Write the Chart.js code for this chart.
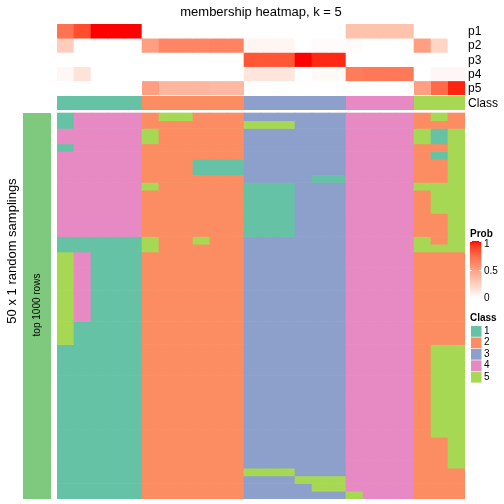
<!DOCTYPE html>
<html><head><meta charset="utf-8">
<script src="https://cdn.jsdelivr.net/npm/chart.js@4/dist/chart.umd.min.js"></script>
<style>
html,body{margin:0;padding:0;background:#fff;}
#wrap{position:relative;width:504px;height:504px;font-family:"Liberation Sans",Arial,Helvetica,sans-serif;color:#000;overflow:hidden;}
#c{position:absolute;left:0;top:0;}
.t{position:absolute;white-space:nowrap;line-height:1;}
</style></head><body>
<div id="wrap"><canvas id="c" width="504" height="504"></canvas></div>
<script>
// ---------------- data ----------------
const titleText = 'membership heatmap, k = 5';
const classLabels = ['1','2','3','4','5'];
const classColors = ['#66C2A5','#FC8D62','#8DA0CB','#E78AC3','#A6D854'];
const annoNames = ['p1','p2','p3','p4','p5'];
const probTicks = [0, 0.5, 1];
// membership probabilities for the 24 samples (columns)
const p1 = [0.70,0.85,1,1,1, 0,0,0,0,0,0, 0,0,0,0,0,0, 0.32,0.32,0.32,0.32, 0,0,0];
const p2 = [0.26,0,0,0,0, 0.50,0.62,0.62,0.62,0.63,0.63, 0.05,0.05,0.05,0,0.02,0.02, 0.02,0,0,0, 0.50,0.22,0];
const p3 = [0,0,0,0,0, 0,0,0,0,0,0, 0.82,0.82,0.82,1,0.95,0.95, 0,0,0,0, 0,0,0];
const p4 = [0.04,0.15,0,0,0, 0,0,0,0,0,0, 0.13,0.13,0.13,0,0.03,0.03, 0.66,0.68,0.68,0.68, 0,0.04,0.04];
const p5 = [0,0,0,0,0, 0.50,0.38,0.38,0.38,0.37,0.37, 0,0,0,0,0,0, 0,0,0,0, 0.50,0.74,0.96];
// consensus class of each sample
const sampleClass = [1,1,1,1,1, 2,2,2,2,2,2, 3,3,3,3,3,3, 4,4,4,4, 5,5,5];
// class assigned in each of the 50 random samplings (rows), one char per sample
const samplingRows = [
"144442552223333334444252",
"144442222225553334444222",
"444445222223333334444515",
"444445222223333334444515",
"144442222223333334444225",
"444442222223333334444215",
"444442221113333334444225",
"444442221113333334444225",
"444442222223333114444225",
"444445222221113334444555",
"444442222221113334444255",
"444442222221113334444255",
"444442222221113334444255",
"444442222221113334444225",
"444442222221113334444225",
"444442222221113334444225",
"111115225223333334444525",
"111115222223333334444555",
"541112222223333334444222",
"541112222223333334444222",
"541112222223333334444222",
"541112222223333334444222",
"541112222223333334444222",
"541112222223333334444222",
"541112222223333334444222",
"541112222223333334444222",
"541112222223333334444222",
"511112222223333334444222",
"511112222223333334444222",
"511112222223333334444222",
"111112222223333334444255",
"111112222223333334444255",
"111112222223333334444255",
"111112222223333334444255",
"111112222223333334444255",
"111112222223333334444255",
"111112222223333334444255",
"111112222223333334444255",
"111112222223333334444255",
"111112222223333334444255",
"111112222223333334444255",
"111112222223333334444255",
"111112222223333334444225",
"111112222223333334444225",
"111112222223333334444225",
"111112222223333334444225",
"111112222225553334444222",
"111112222223335554444222",
"111112222223333554444222",
"111112222223333335444222"
];

// ---------------- layout (sizes in pixel units of the y scale) ----------------
const LAY = {annoRow:14.2, annoGap:1, classRow:14, mainGap:3, mainRow:7.72};

// ---------------- colour helpers (LAB interpolation white -> red) ----------------
function s2l(c){c/=255;return c<=0.04045?c/12.92:Math.pow((c+0.055)/1.055,2.4);}
function l2s(v){v=Math.max(0,Math.min(1,v));v=v<=0.0031308?12.92*v:1.055*Math.pow(v,1/2.4)-0.055;return Math.round(Math.max(0,Math.min(1,v))*255);}
function toLab(r,g,b){
  const R=s2l(r),G=s2l(g),B=s2l(b);
  const X=(0.4124*R+0.3576*G+0.1805*B)/0.95047,Y=(0.2126*R+0.7152*G+0.0722*B),Z=(0.0193*R+0.1192*G+0.9505*B)/1.08883;
  const f=t=>t>0.008856?Math.cbrt(t):7.787*t+16/116;
  const fx=f(X),fy=f(Y),fz=f(Z);
  return [116*fy-16,500*(fx-fy),200*(fy-fz)];
}
function fromLab(L,a,b){
  const fy=(L+16)/116,fx=fy+a/500,fz=fy-b/200;
  const fi=t=>{const t3=t*t*t;return t3>0.008856?t3:(t-16/116)/7.787;};
  const X=fi(fx)*0.95047,Y=fi(fy),Z=fi(fz)*1.08883;
  const R=3.2406*X-1.5372*Y-0.4986*Z,G=-0.9689*X+1.8758*Y+0.0415*Z,B=0.0557*X-0.2040*Y+1.0570*Z;
  return 'rgb('+l2s(R)+','+l2s(G)+','+l2s(B)+')';
}
const LAB0=toLab(255,255,255), LAB1=toLab(255,0,0);
function probColor(p){
  return fromLab(LAB0[0]+(LAB1[0]-LAB0[0])*p, LAB0[1]+(LAB1[1]-LAB0[1])*p, LAB0[2]+(LAB1[2]-LAB0[2])*p);
}

// ---------------- build datasets ----------------
const nCol = sampleClass.length;
const cats = sampleClass.map((c,i)=>'s'+(i+1));
const fill = v => cats.map(()=>v);
const datasets = [];
const base = {stack:'all', barPercentage:1, categoryPercentage:1, borderWidth:0};
[p1,p2,p3,p4,p5].forEach((arr,k)=>{
  datasets.push(Object.assign({}, base, {label:annoNames[k], data:fill(LAY.annoRow),
    backgroundColor:arr.map(probColor), inflateAmount: k===4?0:0.33}));
});
datasets.push(Object.assign({}, base, {label:'gap1', data:fill(LAY.annoGap), backgroundColor:'rgba(0,0,0,0)', inflateAmount:0}));
datasets.push(Object.assign({}, base, {label:'Class', data:fill(LAY.classRow),
  backgroundColor:sampleClass.map(c=>classColors[c-1]), inflateAmount:0}));
datasets.push(Object.assign({}, base, {label:'gap2', data:fill(LAY.mainGap), backgroundColor:'rgba(0,0,0,0)', inflateAmount:0}));
samplingRows.forEach((row,i)=>{
  datasets.push(Object.assign({}, base, {label:'r'+(i+1), data:fill(LAY.mainRow),
    backgroundColor:row.split('').map(ch=>classColors[+ch-1]), inflateAmount:0.33}));
});
const annoTotal = LAY.annoRow*5;
const mainStart = annoTotal + LAY.annoGap + LAY.classRow + LAY.mainGap;
const total = mainStart + LAY.mainRow*samplingRows.length;

// ---------------- extra drawing: left bar and legends ----------------
const extras = {
  id:'extras',
  afterDraw(chart){
    const ctx = chart.ctx, ys = chart.scales.y;
    // left annotation bar
    const yT = ys.getPixelForValue(mainStart), yB = ys.getPixelForValue(total);
    ctx.save();
    ctx.fillStyle = '#7FC97F';
    ctx.fillRect(23, yT, 28, yB-yT);
    // prob gradient legend
    const gx=470, gw=11.3, gt=241, gb=298;
    const grd = ctx.createLinearGradient(0,gt,0,gb);
    for(let i=0;i<=20;i++){ grd.addColorStop(i/20, probColor(1-i/20)); }
    ctx.fillStyle = grd;
    ctx.fillRect(gx, gt, gw, gb-gt);
    ctx.strokeStyle = '#fff'; ctx.lineWidth = 1;
    probTicks.forEach(t=>{
      const y = Math.round(gb-(gb-gt)*t)+0.5;
      ctx.beginPath(); ctx.moveTo(gx,y); ctx.lineTo(gx+2,y); ctx.moveTo(gx+gw-2,y); ctx.lineTo(gx+gw,y); ctx.stroke();
    });
    // class legend swatches
    classColors.forEach((c,i)=>{
      ctx.fillStyle = c;
      ctx.fillRect(471, 326+i*11.45, 10.5, 10.8);
    });
    ctx.restore();
  }
};

new Chart(document.getElementById('c'), {
  type:'bar',
  data:{labels:cats, datasets},
  options:{
    responsive:false, animation:false, events:[],
    layout:{padding:{left:57, right:39, top:24, bottom:5}},
    plugins:{legend:{display:false}, tooltip:{enabled:false}, title:{display:false}},
    scales:{
      x:{stacked:true, display:false},
      y:{stacked:true, display:false, reverse:true, min:0, max:total}
    }
  },
  plugins:[extras]
});

// ---------------- text ----------------
const wrap = document.getElementById('wrap');
function addText(txt, x, y, opts){
  const d = document.createElement('div');
  d.className='t'; d.textContent=txt;
  d.style.left=x+'px'; d.style.top=y+'px';
  d.style.fontSize=(opts.size||12)+'px';
  if(opts.bold) d.style.fontWeight='bold';
  d.style.transform = opts.transform || 'translateY(-50%)';
  wrap.appendChild(d);
}
addText(titleText, 261, 11, {size:13, transform:'translate(-50%,-50%)'});
const annoCenters = annoNames.map((n,k)=>24+LAY.annoRow*(k+0.5));
annoNames.forEach((n,k)=>addText(n, 468, annoCenters[k], {size:12}));
addText('Class', 468, 24+annoTotal+LAY.annoGap+LAY.classRow/2, {size:12});
addText('50 x 1 random samplings', 10.5, 251, {size:13, transform:'translate(-50%,-50%) rotate(-90deg)'});
addText('top 1000 rows', 37, 305, {size:10, transform:'translate(-50%,-50%) rotate(-90deg)'});
addText('Prob', 470, 234, {size:10, bold:true});
probTicks.forEach(t=>addText(String(t), 484, 298-(298-244)*t + (t===0?0:0), {size:10}));
addText('Class', 470, 317.5, {size:10, bold:true});
classLabels.forEach((l,i)=>addText(l, 484, 331+i*11.45, {size:10}));
</script>
</body></html>
